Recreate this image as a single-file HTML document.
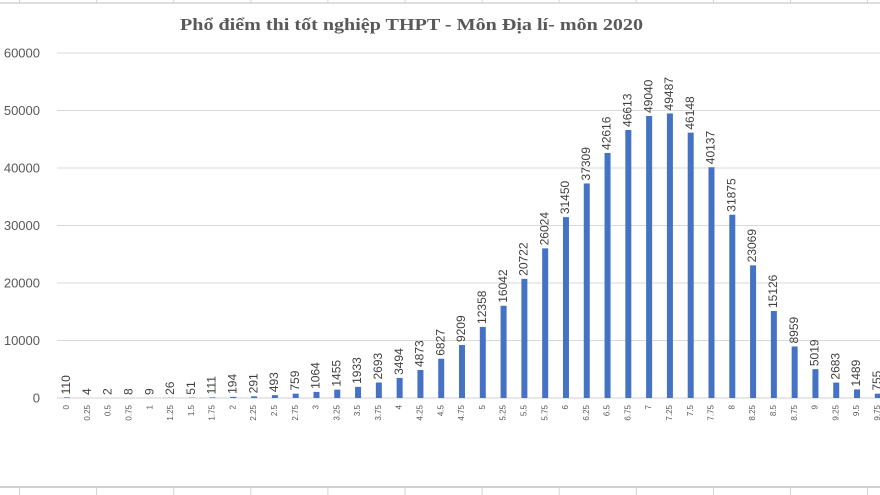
<!DOCTYPE html>
<html><head><meta charset="utf-8"><style>
html,body{margin:0;padding:0;background:#fff;width:880px;height:495px;overflow:hidden}
svg{display:block}
</style></head><body>
<svg id="chart" width="880" height="495" xmlns="http://www.w3.org/2000/svg">
<g id="sheet"></g>
<text x="180" y="30" textLength="463" lengthAdjust="spacingAndGlyphs" font-family="Liberation Serif, serif" font-weight="bold" font-size="17" fill="#595959">Phổ điểm thi tốt nghiệp THPT - Môn Địa lí- môn 2020</text>
<g id="grid"></g>
<g id="yaxis"></g>
<g id="bars"></g>
<g id="vals"></g>
<g id="xaxis"></g>
</svg>
<script>
const categories = ["0","0.25","0.5","0.75","1","1.25","1.5","1.75","2","2.25","2.5","2.75","3","3.25","3.5","3.75","4","4.25","4.5","4.75","5","5.25","5.5","5.75","6","6.25","6.5","6.75","7","7.25","7.5","7.75","8","8.25","8.5","8.75","9","9.25","9.5","9.75"];
const counts = [110,4,2,8,9,26,51,111,194,291,493,759,1064,1455,1933,2693,3494,4873,6827,9209,12358,16042,20722,26024,31450,37309,42616,46613,49040,49487,46148,40137,31875,23069,15126,8959,5019,2683,1489,755];
const yTicks = [0,10000,20000,30000,40000,50000,60000];

const NS="http://www.w3.org/2000/svg";
function mk(tag,attrs,parent,text){const e=document.createElementNS(NS,tag);for(const k in attrs)e.setAttribute(k,attrs[k]);if(text!==undefined)e.textContent=text;parent.appendChild(e);return e;}
const y0=398, pxPer=57.5/10000;
function yScale(v){return y0-v*pxPer;}
function xScale(i){return 67+i*20.79;}

const sheet=document.getElementById('sheet');
let l=mk('line',{x1:0,y1:3,x2:880,y2:3,stroke:'#d4d4d4','stroke-width':1.5},sheet);


l=mk('line',{x1:0,y1:487,x2:880,y2:487,stroke:'#d0d0d0','stroke-width':2},sheet);


for(let x=19.5;x<880;x+=77.1){
  l=mk('line',{x1:x,y1:0,x2:x,y2:3,stroke:'#d4d4d4'},sheet);
  
  
  l=mk('line',{x1:x,y1:487,x2:x,y2:495,stroke:'#d4d4d4'},sheet);
  
  
}

const grid=document.getElementById('grid'), yax=document.getElementById('yaxis');
yTicks.forEach(t=>{
  const y=yScale(t);
  const g=mk('line',{x1:57,y1:y,x2:880,y2:y,stroke:t===0?'#d0d0d0':'#d9d9d9','stroke-width':1},grid);
  
  
  const tx=mk('text',{x:40,y:y+4.5,'text-anchor':'end','font-family':'Liberation Sans, sans-serif','font-size':13,fill:'#595959'},yax,String(t));
  
  
});

const bars=document.getElementById('bars'), vals=document.getElementById('vals'), xax=document.getElementById('xaxis');
counts.forEach((v,i)=>{
  const x=xScale(i), y=yScale(v);
  const r=mk('rect',{x:x-3,y:y,width:6,height:y0-y,fill:'#4472c4'},bars);
  
  
  const ly=y-3;
  const t=mk('text',{x:x,y:ly,transform:`rotate(-90 ${x} ${ly})`,'dominant-baseline':'middle','font-family':'Liberation Sans, sans-serif','font-size':12,fill:'#404040'},vals,String(v));
  
  
  const cy=405;
  const c=mk('text',{x:x,y:cy,transform:`rotate(-90 ${x} ${cy})`,'text-anchor':'end','dominant-baseline':'middle','font-family':'Liberation Sans, sans-serif','font-size':8,fill:'#595959'},xax,categories[i]);
  
  
});
</script>
</body></html>
